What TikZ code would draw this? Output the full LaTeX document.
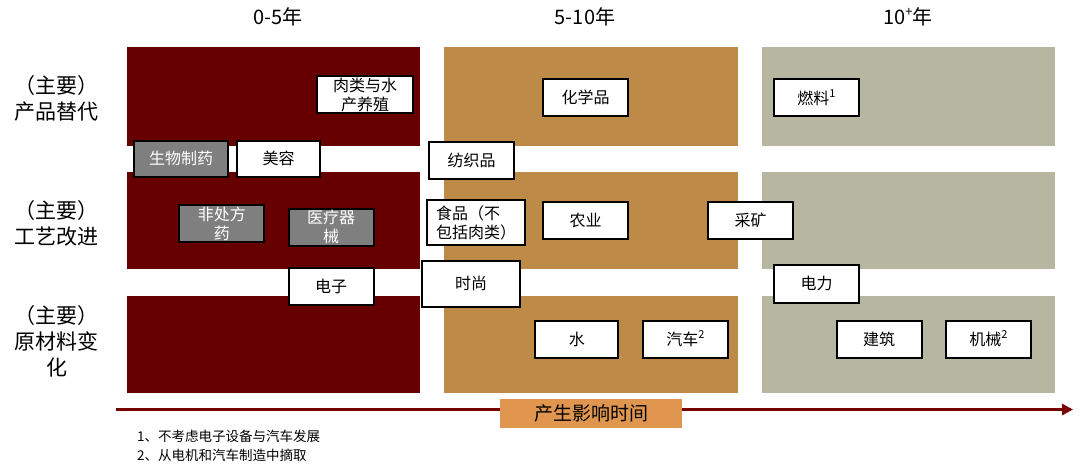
\documentclass[tikz,border=0pt]{standalone}
\usepackage{fontspec}
\setmainfont{Noto Sans CJK SC}
\usetikzlibrary{arrows.meta}
\definecolor{dred}{HTML}{660000}
\definecolor{tan}{HTML}{BE8A47}
\definecolor{sage}{HTML}{B7B6A1}
\definecolor{boxgray}{HTML}{7F7F7F}
\definecolor{axbox}{HTML}{E0964F}
\definecolor{axline}{HTML}{780000}
\newcommand\supnum[1]{\raisebox{0.42em}{\fontsize{11}{11}\selectfont #1}}
\begin{document}
\begin{tikzpicture}[x=1pt,y=-1pt,
  wbox/.style={draw=black,line width=2pt,fill=white,inner sep=0pt,align=center,
    font=\fontsize{16}{19}\selectfont,minimum height=37pt,minimum width=85pt},
  gbox/.style={wbox,fill=boxgray,text=white},
  rowlab/.style={inner sep=0pt,align=center,font=\fontsize{21}{26}\selectfont},
  colhead/.style={inner sep=0pt,font=\fontsize{20}{24}\selectfont},
  note/.style={inner sep=0pt,anchor=west,font=\fontsize{13.5}{16}\selectfont},
  axislbl/.style={fill=axbox,inner sep=0pt,minimum width=182pt,minimum height=28.5pt,
    font=\fontsize{19}{22}\selectfont},
  axisline/.style={draw=axline,line width=3pt,-{Triangle[length=11pt,width=11pt]}}]
\useasboundingbox (0,0) rectangle (1080,472);
% background blocks
\fill[dred] (127,47) rectangle (420,146);
\fill[dred] (127,172) rectangle (420,269);
\fill[dred] (127,296) rectangle (420,393);
\fill[tan] (444,47) rectangle (738,146);
\fill[tan] (444,172) rectangle (738,269);
\fill[tan] (444,296) rectangle (738,393);
\fill[sage] (762,47) rectangle (1055,146);
\fill[sage] (762,172) rectangle (1055,269);
\fill[sage] (762,296) rectangle (1055,393);
% column headers
\node[colhead] (h1) at (278,17) {0-5年};
\node[colhead] (h2) at (585,17) {5-10年};
\node[colhead] (h3) at (908,17) {10\raisebox{0.4em}{\fontsize{13}{13}\selectfont +}年};
% row labels
\node[rowlab] (r1) at (57,98) {（主要）\\产品替代};
\node[rowlab] (r2) at (57,223) {（主要）\\工艺改进};
\node[rowlab] (r3) at (57,341.5) {（主要）\\原材料变\\化};
% boxes
\node[wbox,minimum width=96pt] (meat) at (365,94.5) {肉类与水\\产养殖};
\node[gbox,minimum width=94pt,minimum height=36pt] (bio) at (181,158.7) {生物制药};
\node[wbox,minimum width=83pt,minimum height=36pt] (beauty) at (278.5,158.7) {美容};
\node[wbox] (textile) at (471.5,160.5) {纺织品};
\node[gbox] (otc) at (221.8,223.7) {非处方\\药};
\node[gbox] (med) at (331,227) {医疗器\\械};
\node[wbox,minimum width=98pt,minimum height=45pt,align=left] (food) at (476,222.5) {食品（不\\包括肉类）};
\node[wbox] (chem) at (585.5,97.5) {化学品};
\node[wbox] (fuel) at (816.5,97.5) {燃料\supnum{1}};
\node[wbox] (agri) at (585.5,220.5) {农业};
\node[wbox] (mine) at (750.5,220.5) {采矿};
\node[wbox] (elec) at (331,286.6) {电子};
\node[wbox,minimum width=98pt,minimum height=46pt] (fashion) at (471.2,283.7) {时尚};
\node[wbox,minimum width=83pt] (water) at (576.8,339) {水};
\node[wbox] (car) at (685.4,339) {汽车\supnum{2}};
\node[wbox,minimum height=38pt] (power) at (816.5,283.7) {电力};
\node[wbox] (build) at (879,339) {建筑};
\node[wbox] (mach) at (988.5,339) {机械\supnum{2}};
% time axis
\coordinate (axs) at (116,409.5);
\coordinate (axe) at (1073,409.5);
\draw[axisline] (axs) -- (axe);
\node[axislbl] (axl) at (591.2,413.5) {产生影响时间};
% notes
\node[note] (n1) at (137,436.7) {1、不考虑电子设备与汽车发展};
\node[note] (n2) at (137,455) {2、从电机和汽车制造中摘取};
\end{tikzpicture}
\end{document}
